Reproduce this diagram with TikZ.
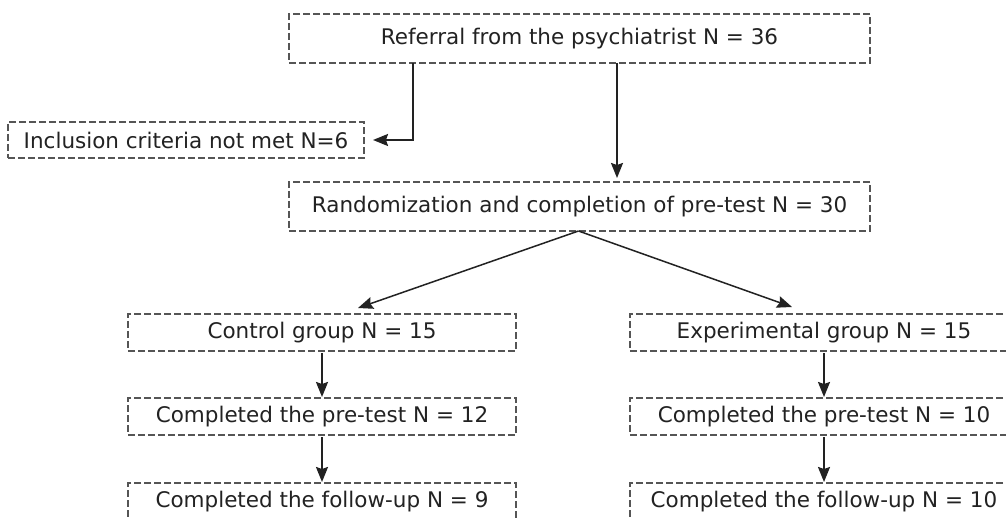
\documentclass[tikz,border=0pt]{standalone}
\usepackage{fontspec}
\setmainfont{DejaVu Sans}
\usetikzlibrary{arrows.meta,calc}
\definecolor{boxline}{HTML}{555555}
\definecolor{ink}{HTML}{222222}
\begin{document}
\begin{tikzpicture}[x=1pt,y=-1pt,
  box/.style={draw=boxline,line width=1.2pt,dash pattern=on 7pt off 3pt,
    inner sep=0pt,outer sep=0pt,text=ink,font=\fontsize{21.5}{25}\selectfont,
    anchor=center},
  widebox/.style={box,minimum height=49pt,minimum width=581pt},
  colbox/.style={box,minimum height=37pt,minimum width=388pt},
  arr/.style={draw=ink,line width=1.8pt,-{Stealth[length=15pt,width=12pt,inset=2pt]}},
  darr/.style={draw=ink,line width=1.5pt,-{Stealth[length=15pt,width=12pt,inset=2pt]}}]
\clip (0,0) rectangle (1006,518);
\fill[white] (0,0) rectangle (1006,518);
\node[widebox] (ref) at (579.5,38.5) {Referral from the psychiatrist N = 36};
\node[box,minimum width=356pt,minimum height=36pt] (incl) at (186,140) {Inclusion criteria not met N=6};
\node[widebox] (rand) at (579.5,206.5) {Randomization and completion of pre-test N = 30};
\node[colbox] (ctrl) at (322,332.5) {Control group N = 15};
\node[colbox] (exp) at (824,332.5) {Experimental group N = 15};
\node[colbox] (cpre) at (322,416.5) {Completed the pre-test N = 12};
\node[colbox] (epre) at (824,416.5) {Completed the pre-test N = 10};
\node[colbox] (cfol) at (322,501.5) {Completed the follow-up N = 9};
\node[colbox] (efol) at (824,501.5) {Completed the follow-up N = 10};
\coordinate (e1) at (413,0);
\coordinate (v1) at (617,0);
\coordinate (tl) at (358,308);
\coordinate (tr) at (792,307);
\draw[arr] (ref.south -| e1) |- ([xshift=9pt]incl.east);
\draw[arr] (ref.south -| v1) -- ([yshift=4pt]rand.north -| v1);
\draw[darr] ([xshift=-1pt]rand.south) -- (tl);
\draw[darr] ([xshift=-1pt]rand.south) -- (tr);
\draw[arr] ([yshift=-2pt]ctrl.south) -- ([yshift=1pt]cpre.north);
\draw[arr] ([yshift=-2pt]cpre.south) -- ([yshift=1pt]cfol.north);
\draw[arr] ([yshift=-2pt]exp.south) -- ([yshift=1pt]epre.north);
\draw[arr] ([yshift=-2pt]epre.south) -- ([yshift=1pt]efol.north);
\end{tikzpicture}
\end{document}
